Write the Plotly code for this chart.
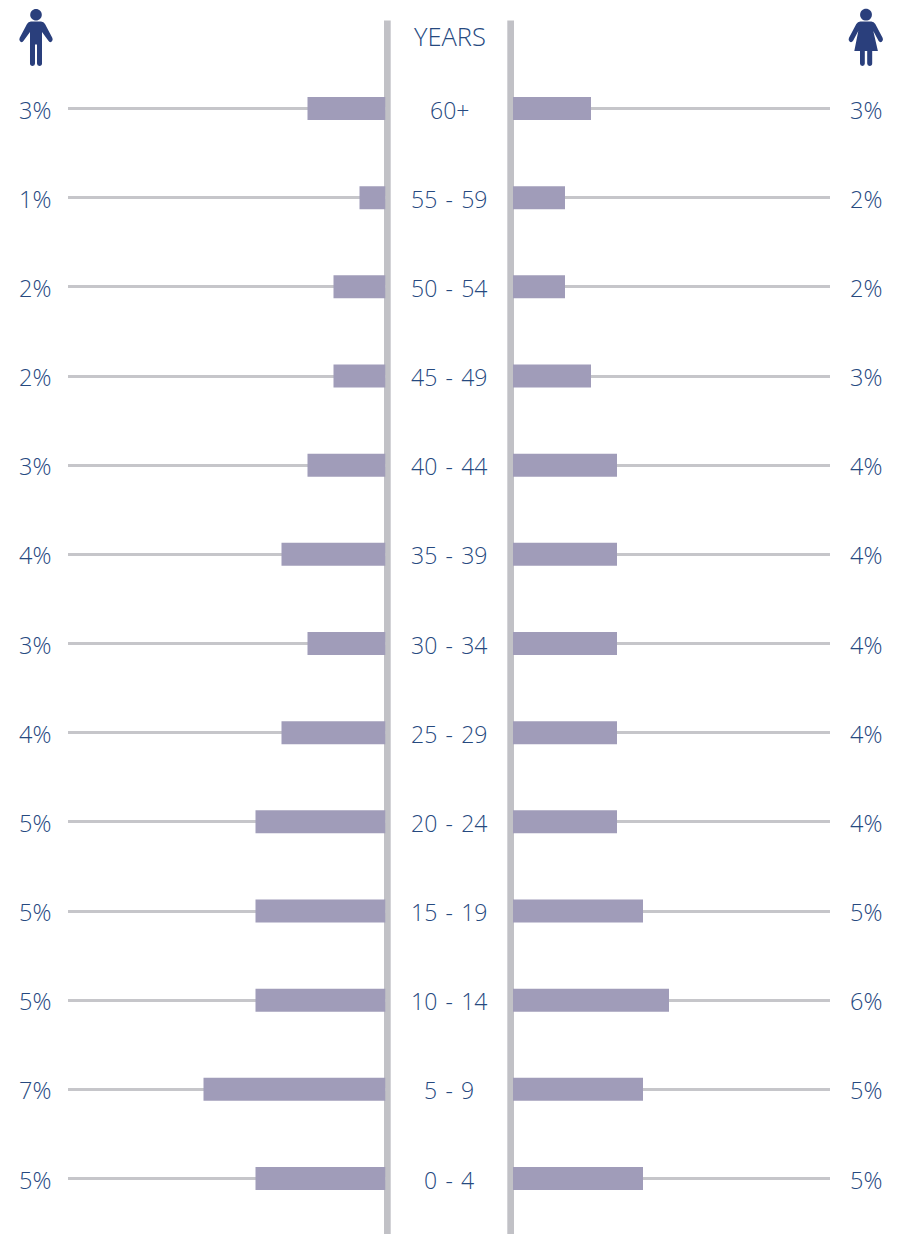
import plotly.graph_objects as go

ages = ["60+", "55 - 59", "50 - 54", "45 - 49", "40 - 44", "35 - 39", "30 - 34",
        "25 - 29", "20 - 24", "15 - 19", "10 - 14", "5 - 9", "0 - 4"]
male = [3, 1, 2, 2, 3, 4, 3, 4, 5, 5, 5, 7, 5]
female = [3, 2, 2, 3, 4, 4, 4, 4, 4, 5, 6, 5, 5]
center_title = "YEARS"

W, H = 899, 1234
TEXT = "#26497f"
BAR = "#a09cb9"
RULE = "#c1c1c6"
ICON = "#2a3f7c"
FONT = dict(family="Open Sans", size=23.5, color=TEXT, weight=300)


def px(x):
    return x / W


def py(y):
    return 1 - y / H


def path(*cmds):
    out = []
    for c in cmds:
        if isinstance(c, str):
            out.append(c)
        else:
            out.append(f"{px(c[0]):.5f},{py(c[1]):.5f}")
    return " ".join(out)


def circle(cx, cy, r):
    k = 0.5523 * r
    return path("M", (cx - r, cy),
                "C", (cx - r, cy - k), (cx - k, cy - r), (cx, cy - r),
                "C", (cx + k, cy - r), (cx + r, cy - k), (cx + r, cy),
                "C", (cx + r, cy + k), (cx + k, cy + r), (cx, cy + r),
                "C", (cx - k, cy + r), (cx - r, cy + k), (cx - r, cy), "Z")


man = path("M", (31, 21.5), "L", (41, 21.5), "Q", (43.8, 21.5), (45, 24),
           "L", (52.4, 38), "Q", (53.4, 40.5), (51.5, 41.8), "Q", (49.6, 42.8), (48.4, 40.8),
           "L", (42, 32), "L", (42, 63.5), "Q", (42, 66), (39.4, 66), "Q", (37, 66), (37, 63.5),
           "L", (37, 44.5), "L", (35, 44.5), "L", (35, 63.5), "Q", (35, 66), (32.6, 66),
           "Q", (30, 66), (30, 63.5), "L", (30, 32), "L", (23.6, 40.8),
           "Q", (22.4, 42.8), (20.5, 41.8), "Q", (18.6, 40.5), (19.6, 38),
           "L", (27, 24), "Q", (28.2, 21.5), (31, 21.5), "Z")

woman = path("M", (860.3, 21.5), "L", (871.3, 21.5), "Q", (873.9, 21.5), (875.3, 24),
             "L", (882.7, 38), "Q", (883.7, 40.5), (881.8, 41.8), "Q", (879.9, 42.8), (878.5, 40.8),
             "L", (873.3, 31), "L", (877.9, 51), "L", (872.2, 51), "L", (872.2, 63.5),
             "Q", (872.2, 66), (869.6, 66), "Q", (867.2, 66), (867.2, 63.5), "L", (867.2, 51),
             "L", (864.8, 51), "L", (864.8, 63.5), "Q", (864.8, 66), (862.4, 66),
             "Q", (860, 66), (860, 63.5), "L", (860, 51), "L", (854.3, 51),
             "L", (858.3, 31), "L", (853.1, 40.8), "Q", (851.7, 42.8), (849.8, 41.8),
             "Q", (847.9, 40.5), (848.9, 38), "L", (856.3, 24), "Q", (857.7, 21.5), (860.3, 21.5), "Z")

shapes = []
for x0, x1 in [(384, 390.7), (507.3, 514)]:
    shapes.append(dict(type="rect", xref="paper", yref="paper", layer="below",
                       x0=px(x0), x1=px(x1), y0=py(20.5), y1=py(H),
                       fillcolor=RULE, line_width=0))
for d in [man, woman, circle(36, 14.7, 5.8), circle(866, 14.7, 5.9)]:
    shapes.append(dict(type="path", xref="paper", yref="paper", path=d,
                       fillcolor=ICON, line_width=0, layer="above"))

annotations = []
for age, m, f in zip(ages, male, female):
    shown = age.replace(" - ", "\u200a - \u200a")
    annotations.append(dict(xref="paper", yref="y", x=px(449), y=age, text=shown,
                            showarrow=False, font=dict(FONT, size=23), xanchor="center",
                            yanchor="middle", yshift=-1))
    annotations.append(dict(xref="paper", yref="y", x=px(35.2), y=age, text=f"{m}%",
                            showarrow=False, font=FONT, xanchor="center", yanchor="middle", yshift=-1))
    annotations.append(dict(xref="paper", yref="y", x=px(866.2), y=age, text=f"{f}%",
                            showarrow=False, font=FONT, xanchor="center", yanchor="middle", yshift=-1))
annotations.append(dict(xref="paper", yref="paper", x=px(449.5), y=py(36.5), text=center_title,
                        showarrow=False, font=dict(FONT, size=25.5), xanchor="center", yanchor="middle"))

fig = go.Figure()
BAR_W = 23 / 89.17
fig.add_trace(go.Bar(y=ages, x=male, orientation="h", marker_color=BAR, marker_line_width=0,
                     width=BAR_W, xaxis="x", yaxis="y", showlegend=False))
fig.add_trace(go.Bar(y=ages, x=female, orientation="h", marker_color=BAR, marker_line_width=0,
                     width=BAR_W, xaxis="x2", yaxis="y2", showlegend=False))

yax = dict(type="category", categoryorder="array", categoryarray=ages,
           range=[12.622, -1.2168], showgrid=True, gridcolor="#c6c6ca", gridwidth=3,
           showticklabels=False, ticks="", showline=False, zeroline=False)
fig.update_layout(
    width=W, height=H, margin=dict(l=0, r=0, t=0, b=0), autosize=False,
    paper_bgcolor="white", plot_bgcolor="rgba(0,0,0,0)", showlegend=False,
    xaxis=dict(domain=[px(68), px(385.5)], range=[317.5 / 26, 0], visible=False, anchor="y"),
    xaxis2=dict(domain=[px(513), px(830)], range=[0, 317 / 26], visible=False, anchor="y2"),
    yaxis=dict(domain=[0, 1], anchor="x", **yax),
    yaxis2=dict(domain=[0, 1], anchor="x2", **yax),
    shapes=shapes, annotations=annotations, font=FONT,
)
fig.write_html("out.html", config=dict(displayModeBar=False),
               post_script="document.body.style.margin='0';document.body.style.overflow='hidden';")
